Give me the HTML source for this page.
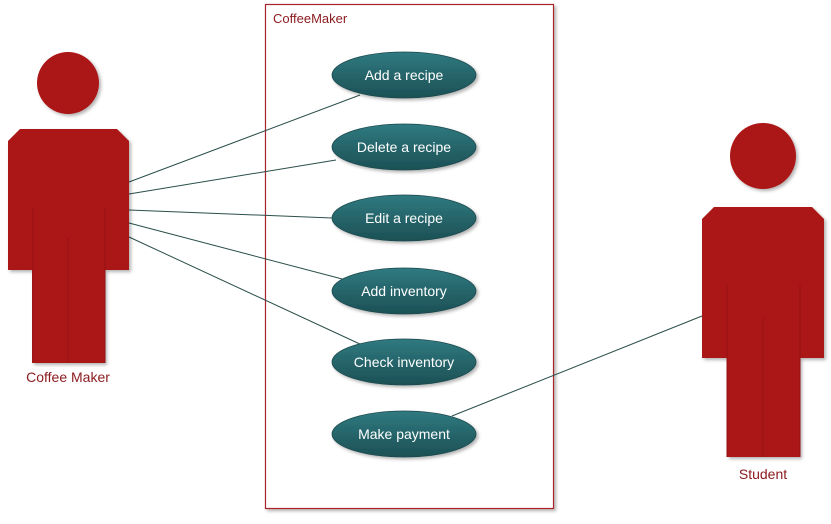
<!DOCTYPE html>
<html><head><style>body{margin:0;background:#fff}</style></head><body>
<svg width="831" height="519" xmlns="http://www.w3.org/2000/svg" font-family="Liberation Sans, sans-serif">
<defs>
<linearGradient id="g" x1="0" y1="0" x2="0" y2="1"><stop offset="0" stop-color="#2f7a80"/><stop offset="1" stop-color="#1c5055"/></linearGradient>
<filter id="s" x="-20%" y="-20%" width="150%" height="150%"><feDropShadow dx="2" dy="2" stdDeviation="1.5" flood-color="#000" flood-opacity="0.3"/></filter>
</defs>
<rect x="265.5" y="4.5" width="288" height="504" fill="#fff" stroke="#a8272c" stroke-width="1.2" filter="url(#s)"/>
<text x="273" y="23" font-size="13" fill="#8b1a1e">CoffeeMaker</text>
<g stroke="#2b4f4a" stroke-width="1" fill="none">
<line x1="129" y1="182" x2="360" y2="95"/>
<line x1="129" y1="194" x2="336" y2="160"/>
<line x1="129" y1="210" x2="332" y2="218"/>
<line x1="129" y1="223" x2="346" y2="280"/>
<line x1="129" y1="237" x2="362" y2="345"/>
<line x1="702" y1="316" x2="452" y2="416"/>
</g>
<g filter="url(#s)" fill="url(#g)" stroke="#1b4a4e" stroke-width="0.8">
<ellipse cx="404" cy="75" rx="72" ry="23"/>
<ellipse cx="404" cy="147" rx="72" ry="23"/>
<ellipse cx="404" cy="218" rx="72" ry="23"/>
<ellipse cx="404" cy="291" rx="72" ry="23"/>
<ellipse cx="404" cy="362" rx="72" ry="23"/>
<ellipse cx="404" cy="434" rx="72" ry="23"/>
</g>
<g fill="#fff" font-size="14" text-anchor="middle">
<text x="404" y="80">Add a recipe</text>
<text x="404" y="152">Delete a recipe</text>
<text x="404" y="223">Edit a recipe</text>
<text x="404" y="296">Add inventory</text>
<text x="404" y="367">Check inventory</text>
<text x="404" y="439">Make payment</text>
</g>
<g fill="#ab1518" filter="url(#s)">
<circle cx="68" cy="83" r="31"/>
<path d="M20 129 H117 L129 141 V270 H105 V363 H32 V270 H8 V141 Z"/>
<circle cx="763" cy="156" r="33"/>
<path d="M714 207 H812 L824 219 V358 H800 V457 H727 V358 H702 V219 Z"/>
</g>
<g stroke="#951216" stroke-width="1">
<line x1="33" y1="208" x2="33" y2="363"/><line x1="68" y1="238" x2="68" y2="363"/><line x1="105" y1="208" x2="105" y2="363"/>
<line x1="727" y1="285" x2="727" y2="457"/><line x1="763" y1="318" x2="763" y2="457"/><line x1="800" y1="285" x2="800" y2="457"/>
</g>
<text x="68" y="382" font-size="14" fill="#8b1a1e" text-anchor="middle">Coffee Maker</text>
<text x="763" y="479" font-size="14" fill="#8b1a1e" text-anchor="middle">Student</text>
</svg>
</body></html>
